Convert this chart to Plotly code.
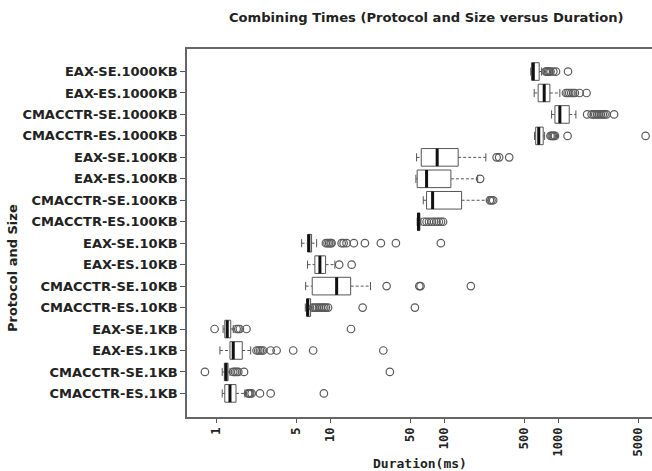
import plotly.graph_objects as go
import math

categories = [
    "EAX-SE.1000KB", "EAX-ES.1000KB", "CMACCTR-SE.1000KB", "CMACCTR-ES.1000KB",
    "EAX-SE.100KB", "EAX-ES.100KB", "CMACCTR-SE.100KB", "CMACCTR-ES.100KB",
    "EAX-SE.10KB", "EAX-ES.10KB", "CMACCTR-SE.10KB", "CMACCTR-ES.10KB",
    "EAX-SE.1KB", "EAX-ES.1KB", "CMACCTR-SE.1KB", "CMACCTR-ES.1KB",
]
lower_whisker = [570, 611, 868, 615, 56.8, 56.0, 65.0, 57.5, 5.57, 6.28, 6.04, 6.0, 1.14, 1.07, 1.12, 1.12]
q1_values     = [580, 662, 929, 630, 62.4, 57.5, 69.5, 58.0, 6.28, 7.28, 6.90, 6.15, 1.18, 1.31, 1.17, 1.18]
median_values = [600, 748, 1026, 670, 86.1, 69.5, 78.5, 59.0, 6.45, 8.06, 11.3, 6.30, 1.24, 1.40, 1.21, 1.31]
q3_values     = [676, 839, 1240, 733, 131.6, 113.6, 141.0, 60.7, 6.81, 9.04, 15.0, 6.68, 1.33, 1.68, 1.26, 1.48]
upper_whisker = [709, 1026, 1419, 755, 230, 195, 241, 62.0, 7.54, 10.9, 22.4, 6.9, 1.40, 1.99, 1.31, 1.77]
outliers = [
    [770, 790, 810, 830, 850, 900, 950, 1210],
    [1160, 1200, 1240, 1290, 1340, 1390, 1530, 1760],
    [1780, 1950, 2030, 2100, 2180, 2260, 2350, 2440, 2530, 2630, 3070],
    [850, 870, 890, 910, 930, 1199, 5800],
    [286, 301, 369],
    [205],
    [250, 258, 267],
    [66, 69.5, 73, 77, 81, 85, 89, 93, 97],
    [9.1, 9.4, 9.7, 10.0, 10.2, 12.5, 13.0, 13.8, 16.0, 20.0, 27.6, 37.4, 92.8],
    [11.9, 15.3],
    [31.0, 60.0, 61.5, 170.0],
    [7.0, 7.3, 7.6, 7.9, 8.2, 8.5, 8.8, 9.1, 9.5, 19.1, 54.9],
    [0.96, 1.50, 1.55, 1.60, 1.83, 15.1],
    [2.24, 2.32, 2.40, 2.48, 2.56, 2.98, 3.36, 4.70, 7.03, 29.0],
    [0.79, 1.40, 1.45, 1.50, 1.55, 1.74, 33.1],
    [1.89, 1.93, 1.97, 2.03, 2.40, 2.98, 8.73],
]
x_tick_values = [1, 5, 10, 50, 100, 500, 1000, 5000]

n = len(categories)
pos = [n - 1 - i for i in range(n)]
BOX_W = 0.82
CAP_H = 0.19
MED_H = BOX_W / 2

fig = go.Figure()

# whiskers (dashed)
wx, wy = [], []
for p, lo, a, b, hi in zip(pos, lower_whisker, q1_values, q3_values, upper_whisker):
    wx += [lo, a, None, b, hi, None]
    wy += [p, p, None, p, p, None]
fig.add_trace(go.Scatter(x=wx, y=wy, mode="lines",
                         line=dict(color="#555555", width=1, dash="3px,2px"),
                         hoverinfo="skip", showlegend=False))
# caps
cx, cy = [], []
for p, lo, hi in zip(pos, lower_whisker, upper_whisker):
    cx += [lo, lo, None, hi, hi, None]
    cy += [p - CAP_H, p + CAP_H, None, p - CAP_H, p + CAP_H, None]
fig.add_trace(go.Scatter(x=cx, y=cy, mode="lines",
                         line=dict(color="#555555", width=1),
                         hoverinfo="skip", showlegend=False))

# boxes
fig.add_trace(go.Box(
    y=pos, q1=q1_values, median=median_values, q3=q3_values,
    lowerfence=q1_values, upperfence=q3_values,
    orientation="h", width=BOX_W, whiskerwidth=0,
    fillcolor="white", line=dict(color="#555555", width=1),
    hoverinfo="skip", showlegend=False, boxpoints=False,
))

# medians (thick)
mx, my = [], []
for p, m in zip(pos, median_values):
    mx += [m, m, None]
    my += [p - MED_H, p + MED_H, None]
fig.add_trace(go.Scatter(x=mx, y=my, mode="lines",
                         line=dict(color="#111111", width=3),
                         hoverinfo="skip", showlegend=False))

# outliers
ox, oy = [], []
for p, outs in zip(pos, outliers):
    for v in outs:
        ox.append(v)
        oy.append(p)
fig.add_trace(go.Scatter(x=ox, y=oy, mode="markers",
                         marker=dict(symbol="circle-open", size=7.5,
                                     color="#5a5a5a", line=dict(width=1.2)),
                         hoverinfo="skip", showlegend=False))

fig.update_layout(
    width=652, height=471,
    margin=dict(l=187, r=0, t=49, b=54),
    paper_bgcolor="white", plot_bgcolor="white",
    showlegend=False,
    xaxis=dict(
        type="log", range=[math.log10(0.55), math.log10(6600)],
        tickvals=x_tick_values, ticktext=[f"<b>{v}</b>" for v in x_tick_values],
        tickangle=-90, ticks="outside", ticklen=4, tickcolor="#555555",
        tickfont=dict(family="DejaVu Sans Mono", size=12, color="#222222"),
        showgrid=False, zeroline=False,
        showline=True, linecolor="#666666", linewidth=1.5, mirror=True,
    ),
    yaxis=dict(
        range=[-1.1, 16.05],
        tickvals=pos, ticktext=[f"<b>{c}</b>" for c in categories],
        ticks="outside", ticklen=5, tickcolor="#555555",
        tickfont=dict(family="DejaVu Sans", size=13, color="#222222"),
        showgrid=False, zeroline=False,
        showline=True, linecolor="#666666", linewidth=1.5,
    ),
    annotations=[
        dict(text="<b>Combining Times (Protocol and Size versus Duration)</b>",
             xref="paper", yref="paper", x=(426 - 187) / 465, y=(417 - 18) / 368,
             xanchor="center", yanchor="middle", showarrow=False,
             font=dict(family="DejaVu Sans", size=13.1, color="#222222")),
        dict(text="<b>Duration(ms)</b>",
             xref="paper", yref="paper", x=0.5, y=(417 - 463) / 368,
             xanchor="center", yanchor="middle", showarrow=False,
             font=dict(family="DejaVu Sans Mono", size=13, color="#222222")),
        dict(text="<b>Protocol and Size</b>", textangle=-90,
             xref="paper", yref="paper", x=(12 - 187) / 465, y=(417 - 268) / 368,
             xanchor="center", yanchor="middle", showarrow=False,
             font=dict(family="DejaVu Sans", size=13, color="#222222")),
    ],
)

fig.write_html("out.html", config={"displayModeBar": False},
               post_script="document.body.style.margin='0';document.body.style.padding='0';document.body.style.overflow='hidden';")
